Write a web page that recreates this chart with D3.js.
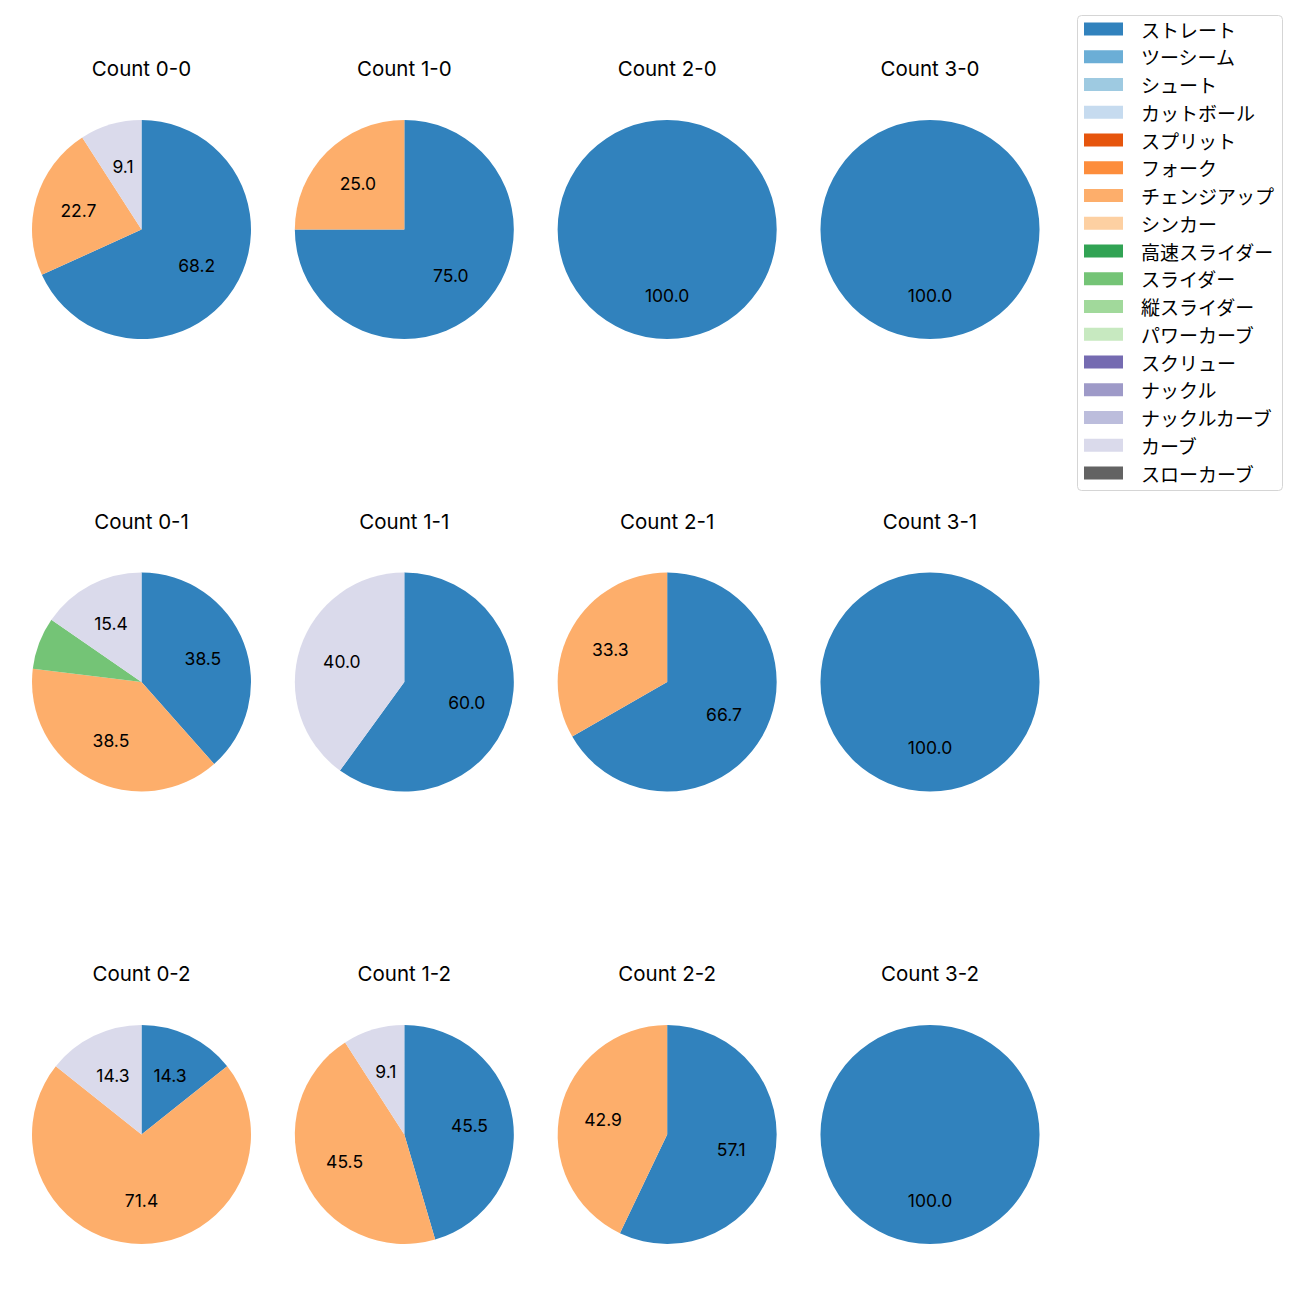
<!DOCTYPE html>
<html>
<head>
<meta charset="utf-8">
<script src="https://cdn.jsdelivr.net/npm/d3@7"></script>
<style>
  body { margin: 0; background: #fff; }
  svg { display: block; font-family: Inter, "Noto Sans CJK JP", sans-serif; }
</style>
</head>
<body>
<svg id="chart" width="1300" height="1300"></svg>
<script>
// Legend categories and colours (tab20c)
const categories = ["ストレート","ツーシーム","シュート","カットボール","スプリット","フォーク","チェンジアップ","シンカー","高速スライダー","スライダー","縦スライダー","パワーカーブ","スクリュー","ナックル","ナックルカーブ","カーブ","スローカーブ"];
const colors = ["#3182bd","#6baed6","#9ecae1","#c6dbef","#e6550d","#fd8d3c","#fdae6b","#fdd0a2","#31a354","#74c476","#a1d99b","#c7e9c0","#756bb1","#9e9ac8","#bcbddc","#dadaeb","#636363"];

// Panels: balls (columns) x strikes (rows)
const balls = [0, 1, 2, 3];
const strikes = [0, 1, 2];
const panelTitles = ["Count 0-0","Count 1-0","Count 2-0","Count 3-0",
                     "Count 0-1","Count 1-1","Count 2-1","Count 3-1",
                     "Count 0-2","Count 1-2","Count 2-2","Count 3-2"];

// Percent values per panel (same order as panelTitles)
const straight = [68.2, 75.0, 100, 100, 38.5, 60.0, 66.7, 100, 14.3, 45.5, 57.1, 100];
const changeup = [22.7, 25.0, 0, 0, 38.5, 0, 33.3, 0, 71.4, 45.5, 42.9, 0];
const slider   = [0, 0, 0, 0, 7.7, 0, 0, 0, 0, 0, 0, 0];
const curve    = [9.1, 0, 0, 0, 15.4, 40.0, 0, 0, 14.3, 9.1, 0, 0];

const svg = d3.select("#chart");

const xCenter = d3.scalePoint().domain(balls).range([141.5, 930]);
const yCenter = d3.scalePoint().domain(strikes).range([229.5, 1134.5]);
const R = 109.5;

const color = d3.scaleOrdinal().domain(categories).range(colors);
const pie = d3.pie().sort(null).value(d => d.value);
const arc = d3.arc().innerRadius(0).outerRadius(R);
const labelArc = d3.arc().innerRadius(R * 0.6).outerRadius(R * 0.6);

panelTitles.forEach((title, i) => {
  const b = balls[i % 4], s = strikes[Math.floor(i / 4)];
  const cx = xCenter(b), cy = yCenter(s);
  const data = [
    {cat: "ストレート", value: straight[i]},
    {cat: "チェンジアップ", value: changeup[i]},
    {cat: "スライダー", value: slider[i]},
    {cat: "カーブ", value: curve[i]}
  ].filter(d => d.value > 0);

  const g = svg.append("g").attr("transform", `translate(${cx},${cy})`);
  const arcs = pie(data);
  g.selectAll("path").data(arcs).join("path")
    .attr("d", arc)
    .attr("fill", d => color(d.data.cat));
  g.selectAll("text").data(arcs.filter(d => d.data.value >= 8)).join("text")
    .attr("transform", d => `translate(${labelArc.centroid(d)})`)
    .attr("text-anchor", "middle")
    .attr("dominant-baseline", "central")
    .attr("font-size", 17.5)
    .attr("fill", "#000")
    .text(d => d.data.value.toFixed(1));

  svg.append("text")
    .attr("x", cx).attr("y", cy - 161)
    .attr("text-anchor", "middle")
    .attr("dominant-baseline", "central")
    .attr("font-size", 20.5)
    .attr("fill", "#000")
    .text(title);
});

// Legend
const lg = svg.append("g");
lg.append("rect")
  .attr("x", 1077.5).attr("y", 15.5).attr("width", 205).attr("height", 475)
  .attr("rx", 4).attr("fill", "#fff").attr("stroke", "#d5d5d5");
const rowY = d3.scaleLinear().domain([0, categories.length - 1]).range([29, 473]);
categories.forEach((c, i) => {
  lg.append("rect")
    .attr("x", 1084).attr("y", rowY(i) - 6.5).attr("width", 39).attr("height", 13)
    .attr("fill", color(c));
  lg.append("text")
    .attr("x", 1141).attr("y", rowY(i))
    .attr("dominant-baseline", "central")
    .attr("font-size", 19)
    .attr("font-family", "'Noto Sans CJK JP'")
    .attr("fill", "#000")
    .text(c);
});
</script>
</body>
</html>
